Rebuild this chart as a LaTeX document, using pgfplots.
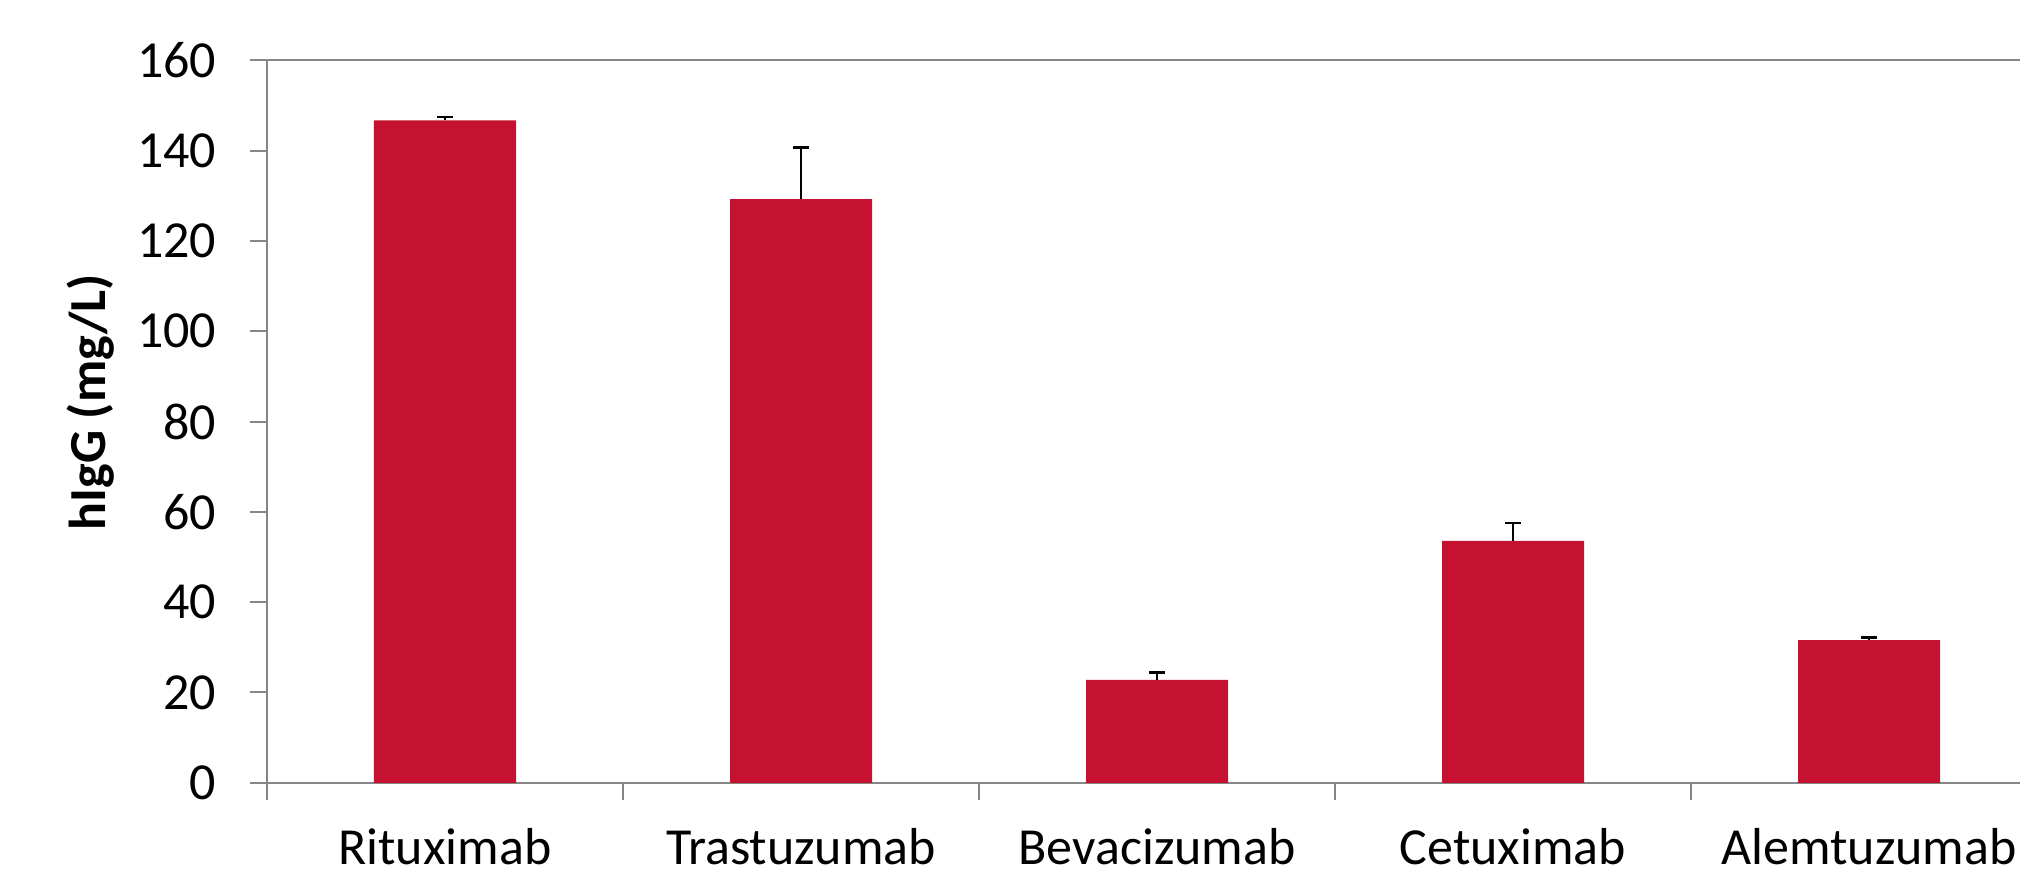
\documentclass[border=0pt]{standalone}
\usepackage{fontspec}
\setmainfont{Carlito}
\usepackage{pgfplots}
\pgfplotsset{compat=1.18}
\definecolor{barred}{RGB}{196,18,48}
\definecolor{axgray}{RGB}{134,134,134}
\begin{document}
\begin{tikzpicture}
\begin{axis}[
  name=ax, at={(0,0)}, anchor=south west,
  scale only axis, width=445pt, height=180.6pt,
  xmin=-0.5, xmax=4.5, ymin=0, ymax=160,
  ytick={0,20,...,160},
  xtick={-0.5,0.5,1.5,2.5,3.5}, xticklabels={},
  extra x ticks={0,1,2,3,4},
  extra x tick labels={Rituximab,Trastuzumab,Bevacizumab,Cetuximab,Alemtuzumab},
  extra x tick style={major tick length=0pt, tick label style={anchor=base, inner sep=0pt, yshift=-20.5pt}},
  axis line style={axgray, line width=0.5pt},
  every tick/.style={axgray, line width=0.5pt},
  tick align=outside, major tick length=4.3pt,
  xtick pos=left, ytick pos=left,
  yticklabel style={anchor=east, inner sep=0pt, xshift=-8.2pt},
  /pgf/number format/assume math mode=true,
  tick label style={font=\fontsize{13}{15}\selectfont, black},
  ylabel={\textbf{hIgG (mg/L)}},
  every axis y label/.style={at={(axis description cs:-0.099,0.527)}, rotate=90, anchor=center, font=\fontsize{13}{15}\selectfont},
  ybar, bar width=35.5pt,
]
\addplot[fill=barred, draw=none,
  error bars/.cd, y dir=plus, y explicit,
  error mark=|,
  error bar style={black, line width=0.5pt},
  error mark options={black, line width=0.6pt, mark size=1.9pt}]
  coordinates {
  (0,146.7) +- (0,0.7)
  (1,129.3) +- (0,11.4)
  (2,22.8) +- (0,1.6)
  (3,53.6) +- (0,4.0)
  (4,31.6) +- (0,0.6)
};
\end{axis}
\pgfresetboundingbox
\path[use as bounding box] ([xshift=-66.75pt,yshift=-23.4pt]ax.south west) rectangle ([xshift=438.25pt,yshift=15.1pt]ax.north west);
\end{tikzpicture}
\end{document}
